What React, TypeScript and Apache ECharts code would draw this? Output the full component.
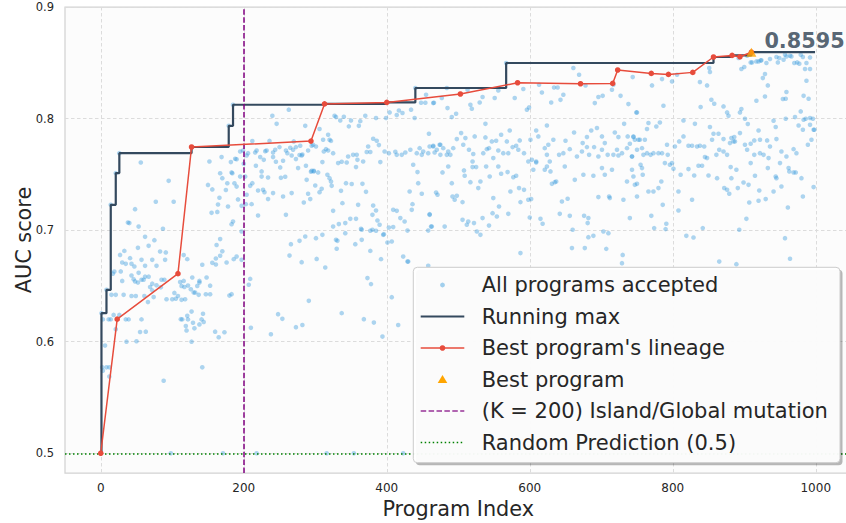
import { useEffect, useRef } from "react";
import * as echarts from "echarts";

// Axis ticks
const tickX = [0, 200, 400, 600, 800, 1000];
const tickY = [0.5, 0.6, 0.7, 0.8, 0.9];

// Every accepted program: [program index, AUC]
const acceptedPrograms: [number, number][] = [
  [56,.7606],[95,.7442],[77,.7254],[102,.7254],[48,.7188],[38,.7068],[40,.7063],[53,.7032],[87,.7012],[62,.694],[75,.691],[52,.6841],[67,.6859],[83,.6808],[91,.68],[33,.6814],[27,.6778],[41,.6749],[57,.6734],[72,.6734],[90,.6734],[30,.671],[35,.6698],[43,.6698],[47,.6674],[62,.668],[78,.668],[19,.6629],[28,.663],[43,.6593],[53,.6617],[17,.661],[62,.6583],[67,.6583],[46,.656],[48,.654],[52,.653],[30,.6545],[57,.6555],[60,.6555],[72,.652],[78,.6505],[85,.6555],[89,.6555],[111,.6534],[116,.6545],[122,.6503],[128,.6575],[138,.6545],[138,.653],[135,.65],[148,.6575],[153,.6502],[113,.65],[117,.649],[126,.647],[130,.644],[103,.6437],[108,.641],[84,.6487],[69,.649],[72,.646],[132,.644],[137,.642],[147,.6425],[153,.6425],[15,.642],[21,.642],[32,.642],[43,.641],[49,.641],[61,.641],[66,.6355],[74,.64],[92,.638],[100,.638],[105,.6385],[113,.6375],[118,.638],[112,.6202],[114,.62],[122,.62],[129,.617],[121,.6232],[127,.627],[143,.625],[141,.62],[138,.6155],[119,.614],[120,.61],[131,.612],[144,.6177],[160,.609],[63,.609],[3,.62],[11,.62],[14,.62],[18,.624],[26,.624],[35,.62],[39,.62],[57,.62],
  [152,.7615],[169,.7655],[182,.761],[188,.764],[190,.7635],[167,.751],[170,.7466],[184,.751],[177,.742],[175,.736],[187,.742],[190,.739],[150,.7405],[156,.7365],[166,.729],[164,.723],[155,.7155],[163,.7163],[178,.7212],[183,.7053],[167,.692],[162,.6867],[170,.681],[167,.677],[161,.6746],[156,.6707],[161,.6692],[176,.671],[186,.674],[142,.669],[180,.6413],[121,.674],[116,.6776],
  [21,.6112],[36,.6],[50,.6004],[55,.6087],[127,.6],[165,.604],[173,.6085],[210,.6124],[6,.5965],[2,.577],[8,.577],[12,.577],[3,.574],[12,.5687],[142,.577],[88,.565],
  [98,.5],[171,.5],[218,.5],[316,.5],[354,.5],[423,.5],
  [1,.6256],[8,.6465],[14,.7227],[21,.7511],[26,.769],[179,.7935],[185,.8124],[440,.8274],[567,.8498],
  [263,.808],[240,.8025],[246,.7953],[286,.7935],[318,.7855],[311,.781],[320,.781],[212,.7798],[195,.7705],[199,.7714],
  [195,.748],[183,.7517],[197,.7218],[185,.7077],[197,.6988],[197,.6734],[192,.7275],[200,.7595],
  [306,.7906],[322,.78],[327,.8025],[329,.8013],[335,.7983],[340,.8016],[347,.793],[350,.7983],[361,.7935],[363,.7977],[370,.8025],[385,.8005],[399,.8005],[404,.8055],[414,.8031],[417,.8072],[422,.805],[434,.808],[439,.8005],[448,.8142],[454,.8142],[466,.8142],[455,.8213],[459,.7864],
  [236,.78],[270,.7795],[297,.7765],[301,.775],
  [204,.7669],[206,.769],[216,.7696],[218,.7714],[230,.7708],[232,.7714],[241,.7696],[244,.772],[250,.7744],[259,.7714],[265,.7738],[269,.772],[273,.7744],[279,.7756],[282,.7678],[290,.7714],[295,.7756],
  [217,.7577],[223,.7655],[225,.7526],[228,.763],[241,.7655],[245,.7613],[251,.7562],[255,.7622],[261,.769],[267,.7669],[273,.7637],[278,.7673],[281,.7669],[276,.7556],[287,.7577],[294,.7523],[298,.7526],[304,.7517],[310,.761],[312,.7705],[315,.7726],[318,.7714],[325,.769],[332,.7601],[337,.7613],[344,.7606],[346,.766],[353,.7675],[358,.7675],[359,.763],[357,.7565],[367,.7615],[372,.77],[377,.77],[374,.775],[381,.7819],[386,.7801],[389,.7762],[391,.761],[397,.7705],[403,.769],[412,.7702],[414,.7675],[421,.7675],[426,.7696],[433,.772],[437,.7586],[442,.769],[446,.7735],[449,.7675],[451,.7705],[458,.769],[465,.775],[467,.7696],[474,.7765],[475,.7675],
  [202,.748],[209,.7397],[212,.7421],[220,.7355],[227,.7361],[229,.734],[234,.7278],[241,.7332],[211,.7233],[204,.7317],[203,.7233],
  [220,.7131],[259,.7137],[255,.7301],[267,.7332],[252,.7469],[258,.7478],[225,.748],[234,.7472],
  [288,.7451],[295,.7532],[298,.7532],[300,.74],[306,.734],[309,.737],[290,.7326],[293,.7278],[284,.7248],
  [317,.7496],[320,.7466],[322,.7436],[323,.7397],[336,.7352],[343,.7421],[351,.7413],[366,.7415],[371,.7343],
  [325,.7173],[338,.7242],[360,.7227],[349,.7101],[357,.7101],[342,.7063],[333,.7054],[325,.7032],
  [381,.722],[385,.7176],[380,.7137],[387,.7086],[390,.7048],[365,.7003],[364,.7012],[380,.7003],[396,.6964],[403,.7023],[409,.7027],
  [409,.7182],[414,.7173],[419,.7108],[425,.7077],[429,.6996],[432,.7346],[436,.7233],[435,.7182],[444,.7421],[449,.7326],[443,.752],
  [460,.7143],[462,.7032],[458,.6996],
  [286,.6943],[278,.6904],[266,.6874],[310,.6958],[301,.6928],[329,.6913],[331,.6904],[330,.6833],[342,.6973],[356,.6874],[365,.6913],[377,.6814],[377,.6994],[385,.6994],[401,.6889],[407,.6898],[395,.6958],[392,.674],[423,.6763],[429,.6718],[281,.6713],[264,.6772],[302,.6742],[314,.6665],[373,.657],
  [378,.6516],[209,.6563],[207,.651],[183,.6426],[291,.6366],[248,.6247],[254,.6205],[238,.6067],[273,.613],[282,.615],[337,.6256],[368,.6202],[382,.6171],[394,.6046],[407,.6399],[416,.615],[190,.6763],
  [484,.8274],[477,.8184],[465,.8139],[485,.8094],[491,.8013],[497,.8043],
  [513,.8258],[517,.8124],[519,.8088],[530,.8144],[534,.8193],[551,.8184],[556,.8252],[579,.8184],[591,.8265],[596,.8079],[599,.81],[613,.8303],[617,.8234],[630,.8144],[634,.8278],[639,.8278],[643,.8168],[647,.8213],[661,.8453],[669,.8393],[678,.8297],[691,.8139],[696,.8193],[702,.8204],[715,.8258],[717,.8303],[727,.8204],[738,.813],[744,.8372],[749,.8055],
  [538,.7953],[572,.7893],[498,.7816],[504,.787],[510,.7825],[523,.784],[538,.7831],[547,.7795],[553,.7801],[560,.7855],[568,.7795],[586,.7804],[601,.781],[609,.7893],[612,.784],[624,.7938],[626,.7765],[633,.781],[650,.7801],[662,.7875],[674,.778],[680,.7834],[686,.7893],[694,.7915],[701,.784],[719,.7875],[724,.7834],[732,.7953],[737,.784],[745,.7834],[752,.781],
  [460,.775],[465,.7756],[470,.772],[475,.7765],[479,.7735],[484,.7675],[486,.7705],[493,.7735],[489,.7675],[507,.7765],[515,.772],[521,.7682],[520,.7615],[525,.7565],[535,.769],[540,.7726],[543,.7735],[549,.7646],[556,.7714],[563,.769],[570,.769],[576,.7744],[581,.7756],[584,.772],[592,.769],[598,.7615],[603,.763],[609,.7615],[621,.7735],[624,.7675],[628,.7615],[641,.7675],[647,.769],[656,.7726],[666,.766],[673,.7705],[680,.7744],[683,.7675],[690,.7744],[696,.766],[701,.772],[705,.778],[709,.7675],[717,.7675],[722,.772],[729,.769],[736,.7735],[740,.7774],[743,.766],[750,.772],
  [478,.7517],[486,.757],[491,.7421],[469,.7337],[471,.7317],[492,.7301],[495,.7272],[498,.7308],[506,.7251],[508,.7535],[509,.7487],[517,.743],[520,.7565],[528,.7377],[531,.7436],[539,.757],[544,.7481],[549,.7287],[556,.757],[557,.7212],[560,.7505],[569,.752],[573,.7346],[577,.7475],[581,.7487],[585,.7377],[587,.7251],[592,.7361],[600,.7113],[598,.7272],[602,.7278],[605,.7541],[609,.7606],[615,.7101],[618,.7057],[621,.7541],[624,.757],[629,.7526],[631,.7415],[635,.743],[637,.7436],[645,.7257],[649,.757],[653,.7281],[663,.7451],[675,.7496],[682,.7108],[689,.7487],[696,.7296],[701,.7556],[705,.7496],[711,.7301],[712,.7287],[715,.7541],[724,.7669],[731,.7272],[736,.7436],[740,.7108],[743,.7541],[745,.7481],[750,.7415],
  [460,.7137],[463,.7032],[481,.7032],[506,.7092],[512,.7048],[514,.7077],[522,.7063],[526,.6988],[531,.6958],[534,.7108],[543,.7041],[548,.7152],[554,.7122],[570,.7146],[587,.6794],[642,.7146],[656,.7128],[660,.7003],[659,.6839],[676,.7128],[677,.6839],[681,.7063],[682,.6937],[689,.6949],[703,.6988],[707,.6832],[710,.6973],[730,.6778],[729,.6704],
  [430,.6718],[458,.668],
  [771,.8297],[785,.8354],[799,.8333],[806,.8393],[838,.8327],[848,.8297],[851,.8453],[852,.8417],[839,.8103],[854,.8169],[858,.8133],[871,.8109],[876,.8055],[878,.8025],[894,.8055],[896,.8085],[901,.7998],[896,.8444],[900,.8462],[909,.8503],[917,.8512],[923,.8521],[926,.8363],[929,.8399],[933,.8297],[929,.8198],[917,.816],[931,.8498],[936,.8534],[947,.8503],[955,.8527],[959,.8557],[964,.8563],[970,.8498],[977,.8492],[982,.8552],[985,.8444],[992,.8444],[987,.8339],[959,.8238],[954,.8175],[958,.8178],[983,.8204],[990,.8178],[979,.8064],[971,.8013],[892,.8543],[904,.8563],[957,.8572],[945,.8552],[949,.8543],[992,.8548],[979,.8572],[966,.8557],[924,.8522],[920,.8512],[911,.8503],[987,.8498],[974,.8503],
  [750,.8055],[787,.8115],[815,.7983],[831,.7953],[852,.7924],[857,.7864],[864,.7864],[871,.7816],[880,.778],[886,.7834],[885,.7795],[894,.787],[905,.7951],[914,.7804],[920,.7893],[922,.781],[932,.7804],[941,.798],[944,.7924],[958,.7998],[976,.7938],[982,.79],[986,.7998],[992,.7944],[996,.7998],[998,.79],[994,.781],[989,.7765],[983,.7989],
  [745,.784],[747,.781],[754,.781],[761,.781],[766,.796],[764,.7906],[777,.7929],[782,.7965],[743,.766],[757,.7735],[759,.7675],[764,.769],[769,.7675],[773,.769],[780,.769],[785,.769],[792,.7765],[793,.7675],[803,.775],[809,.7795],[815,.784],[822,.7756],[827,.7756],[834,.775],[838,.7756],[844,.775],[848,.7646],[855,.781],[861,.7675],[865,.772],[871,.7705],[876,.7675],[882,.7825],[887,.7795],[901,.7765],[904,.772],[909,.7774],[914,.7675],[922,.769],[927,.7675],[936,.775],[934,.7646],[945,.7816],[952,.7705],[959,.766],[969,.7726],[973,.769],
  [755,.7586],[757,.7556],[758,.7496],[747,.7406],[750,.7301],[766,.7346],[773,.7346],[780,.7377],[784,.7436],[789,.7601],[796,.7586],[799,.7601],[801,.755],[808,.7346],[811,.7496],[822,.7547],[827,.7272],[830,.749],[836,.7577],[841,.7577],[845,.7655],[850,.749],[862,.7466],[872,.7377],[876,.7361],[879,.7326],[881,.7565],[882,.7466],[889,.7541],[891,.7377],[899,.7427],[906,.7406],[907,.7248],[909,.7601],[915,.7487],[920,.7263],[921,.7355],[930,.7278],[933,.7556],[941,.7346],[944,.7481],[945,.7466],[950,.7601],[952,.7391],[962,.7556],[963,.7526],[969,.7517],[972,.7517],[980,.7466],[982,.7301],[997,.7386],
  [770,.7128],[774,.7018],[786,.7227],[791,.7057],[790,.7009],[808,.7176],[819,.6949],[829,.6934],[842,.7018],[865,.6718],[889,.6695],[893,.7003],[903,.7101],[961,.7203],[957,.6928],[964,.6743],
  [992,.8005],[997,.79],
];

// Running maximum AUC (value holds from each index until the next)
const runningMaxIdx = [0, 1, 8, 14, 21, 26, 127, 179, 185, 313, 400, 440, 567, 857, 883, 910, 999];
const runningMaxAuc = [0.5, 0.6256, 0.6465, 0.7227, 0.7511, 0.769, 0.7745, 0.7935, 0.8124, 0.8131, 0.8145, 0.8274, 0.8498, 0.8552, 0.8566, 0.8595, 0.8595];

// Ancestors of the best program
const lineageIdx = [0, 23, 108, 127, 294, 313, 400, 503, 583, 671, 716, 723, 770, 794, 828, 857, 883, 894, 910];
const lineageAuc = [0.5, 0.6202, 0.661, 0.7745, 0.7798, 0.8131, 0.8145, 0.822, 0.8321, 0.8312, 0.8315, 0.8435, 0.8405, 0.8396, 0.8414, 0.8552, 0.8566, 0.8554, 0.8595];

const bestProgram: [number, number] = [910, 0.8595];
const islandSwitchK = 200;
const randomAuc = 0.5;

const legendLabels = [
  "All programs accepted",
  "Running max",
  "Best program's lineage",
  "Best program",
  "(K = 200) Island/Global mutation",
  "Random Prediction (0.5)",
];

const FONT = "DejaVu Sans";
const TEXT = "#262626";
const BLUE = "#3498db";
const SLATE = "#34495e";
const RED = "#e74c3c";
const ORANGE = "#ffa500";
const PURPLE = "#800080";
const GREEN = "#008000";

function buildLegend() {
  const x0 = 413.3, y0 = 267.3, w = 426.7, h = 195.4;
  const iconL = 420.7, iconR = 464.3, iconC = 442.5, textX = 481.7;
  const rowY = (i: number) => 285 + i * 31.5;
  const els: any[] = [
    { type: "rect", shape: { x: x0 + 2.5, y: y0 + 2.5, width: w, height: h, r: 4 }, style: { fill: "rgba(0,0,0,0.28)" }, z: 100 },
    { type: "rect", shape: { x: x0, y: y0, width: w, height: h, r: 4 }, style: { fill: "rgba(255,255,255,0.95)", stroke: "#cccccc", lineWidth: 1 }, z: 101 },
    { type: "circle", shape: { cx: iconC, cy: rowY(0), r: 2.4 }, style: { fill: BLUE, opacity: 0.45 }, z: 102 },
    { type: "line", shape: { x1: iconL, y1: rowY(1), x2: iconR, y2: rowY(1) }, style: { stroke: SLATE, lineWidth: 2.2 }, z: 102 },
    { type: "line", shape: { x1: iconL, y1: rowY(2), x2: iconR, y2: rowY(2) }, style: { stroke: RED, lineWidth: 1.5 }, z: 102 },
    { type: "circle", shape: { cx: iconC, cy: rowY(2), r: 2.8 }, style: { fill: RED }, z: 103 },
    { type: "polygon", shape: { points: [[iconC, rowY(3) - 4.5], [iconC + 4.8, rowY(3) + 3.6], [iconC - 4.8, rowY(3) + 3.6]] }, style: { fill: ORANGE }, z: 102 },
    { type: "line", shape: { x1: iconL, y1: rowY(4), x2: iconR, y2: rowY(4) }, style: { stroke: PURPLE, lineWidth: 1.5, lineDash: [5.5, 2.4], opacity: 0.8 }, z: 102 },
    { type: "line", shape: { x1: iconL, y1: rowY(5), x2: iconR, y2: rowY(5) }, style: { stroke: GREEN, lineWidth: 1.5, lineDash: [1.5, 2.5] }, z: 102 },
  ];
  legendLabels.forEach((label, i) => {
    els.push({
      type: "text",
      x: textX,
      y: rowY(i),
      style: { text: label, fill: TEXT, font: `21px "${FONT}"`, textVerticalAlign: "middle", textAlign: "left" },
      z: 103,
    });
  });
  return els;
}

export default function App() {
  const ref = useRef<HTMLDivElement>(null);

  useEffect(() => {
    if (!ref.current) return;
    const chart = echarts.init(ref.current, undefined, { renderer: "svg" });
    const gridLine = { show: true, lineStyle: { color: "#dcdcdc", width: 1, type: [3.5, 2.5] as any } };

    chart.setOption({
      animation: false,
      backgroundColor: "#ffffff",
      textStyle: { fontFamily: FONT },
      grid: {
        left: 65, top: 7, width: 786.5, height: 466,
        outerBoundsMode: "none", containLabel: false,
        show: true, backgroundColor: "#fcfcfc", borderColor: "#d2d2d2", borderWidth: 1.25,
      },
      xAxis: {
        type: "value", min: -50, max: 1050,
        axisLine: { show: false },
        axisTick: { show: false, customValues: tickX },
        axisLabel: { customValues: tickX, fontFamily: FONT, fontSize: 12, color: TEXT, margin: 9, formatter: (v: number) => String(v) },
        splitLine: gridLine,
        name: "Program Index", nameLocation: "middle", nameGap: 24,
        nameTextStyle: { fontFamily: FONT, fontSize: 20.8, color: TEXT },
      },
      yAxis: {
        type: "value", min: 0.4823, max: 0.9,
        axisLine: { show: false },
        axisTick: { show: false, customValues: tickY },
        axisLabel: { customValues: tickY, fontFamily: FONT, fontSize: 11.5, color: TEXT, margin: 11, formatter: (v: number) => v.toFixed(1) },
        splitLine: gridLine,
        name: "AUC score", nameLocation: "middle", nameGap: 31, nameRotate: 90, nameMoveOverlap: false,
        nameTextStyle: { fontFamily: FONT, fontSize: 20.8, color: TEXT },
      },
      series: [
        {
          name: legendLabels[0], type: "scatter", z: 2,
          data: acceptedPrograms, symbol: "circle", symbolSize: 4.6,
          itemStyle: { color: BLUE, opacity: 0.4 },
        },
        {
          type: "line", z: 3, data: [],
          markLine: {
            silent: true, symbol: ["none", "none"], label: { show: false }, animation: false,
            data: [
              { xAxis: islandSwitchK, lineStyle: { color: PURPLE, width: 1.5, type: [5.5, 2.4], opacity: 1 } },
              { yAxis: randomAuc, lineStyle: { color: GREEN, width: 1.5, type: [1.5, 2.5], opacity: 1 } },
            ],
          },
        },
        {
          name: legendLabels[1], type: "line", z: 4, step: "end",
          data: runningMaxIdx.map((x, i) => [x, runningMaxAuc[i]]),
          showSymbol: false, lineStyle: { color: SLATE, width: 2.2 }, itemStyle: { color: SLATE },
        },
        {
          name: legendLabels[2], type: "line", z: 5,
          data: lineageIdx.map((x, i) => [x, lineageAuc[i]]),
          symbol: "circle", symbolSize: 5.6, showSymbol: true,
          lineStyle: { color: RED, width: 1.5 }, itemStyle: { color: RED },
        },
        {
          name: legendLabels[3], type: "scatter", z: 6,
          data: [bestProgram], symbol: "triangle", symbolSize: [10, 9],
          itemStyle: { color: ORANGE },
          label: {
            show: true, position: "right", distance: 8, offset: [0, -11],
            formatter: (p: any) => p.value[1].toFixed(4),
            fontFamily: FONT, fontWeight: "bold", fontSize: 20.8, color: "#2c3e50",
          },
        },
      ],
      graphic: buildLegend(),
    });

    return () => chart.dispose();
  }, []);

  return (
    <div
      ref={ref}
      style={{ position: "absolute", left: 0, top: 0, width: 846, height: 523, background: "#ffffff" }}
    />
  );
}
